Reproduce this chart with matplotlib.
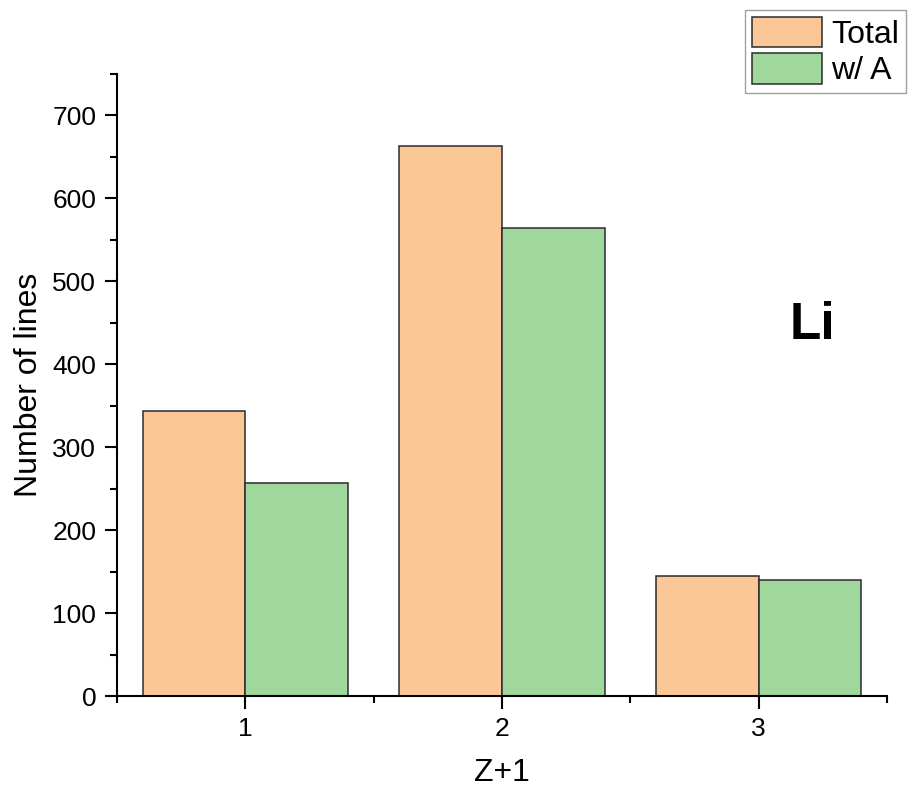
import matplotlib
matplotlib.use("Agg")
import matplotlib.pyplot as plt
from matplotlib.ticker import MultipleLocator
import numpy as np

plt.rcParams["font.family"] = ["Liberation Sans", "DejaVu Sans"]

# data
charge = [1, 2, 3]
total = [344, 663, 145]
with_a = [257, 564, 140]
series_names = ["Total", "w/ A"]

fig = plt.figure(figsize=(9.14, 7.93), dpi=100)
ax = fig.add_axes([0.128, 0.1223, 0.8425, 0.7844])

x = np.array(charge)
bw = 0.4
ax.bar(x - bw / 2, total, width=bw, color="#FBC797", edgecolor="#2b2b2b",
       linewidth=1.1, label=series_names[0])
ax.bar(x + bw / 2, with_a, width=bw, color="#9FD79C", edgecolor="#2b2b2b",
       linewidth=1.1, label=series_names[1])

ax.set_xlim(0.5, 3.5)
ax.set_ylim(0, 750)
ax.set_xticks(charge)
ax.xaxis.set_minor_locator(MultipleLocator(0.5))
ax.yaxis.set_major_locator(MultipleLocator(100))
ax.yaxis.set_minor_locator(MultipleLocator(50))

for side in ["top", "right"]:
    ax.spines[side].set_visible(False)
for side in ["left", "bottom"]:
    ax.spines[side].set_linewidth(1.5)

ax.tick_params(which="major", direction="out", length=9, width=1.5,
               labelsize=19, pad=6)
ax.tick_params(which="minor", direction="out", length=5, width=1.5)

ax.set_xlabel("Z+1", fontsize=23, labelpad=12)
ax.set_ylabel("Number of lines", fontsize=23, labelpad=6)

ax.text(0.889, 0.59, "Li", transform=fig.transFigure, fontsize=37,
        fontweight="bold", ha="center", va="center")

leg = ax.legend(loc="upper right", bbox_to_anchor=(0.991, 0.987),
                bbox_transform=fig.transFigure, fontsize=23, frameon=True,
                fancybox=False, edgecolor="#888888", borderaxespad=0,
                handlelength=2.2, handleheight=1.1, handletextpad=0.3,
                labelspacing=0.1, borderpad=0.2)
leg.get_frame().set_linewidth(1.0)

fig.savefig("out.png", dpi=100)
